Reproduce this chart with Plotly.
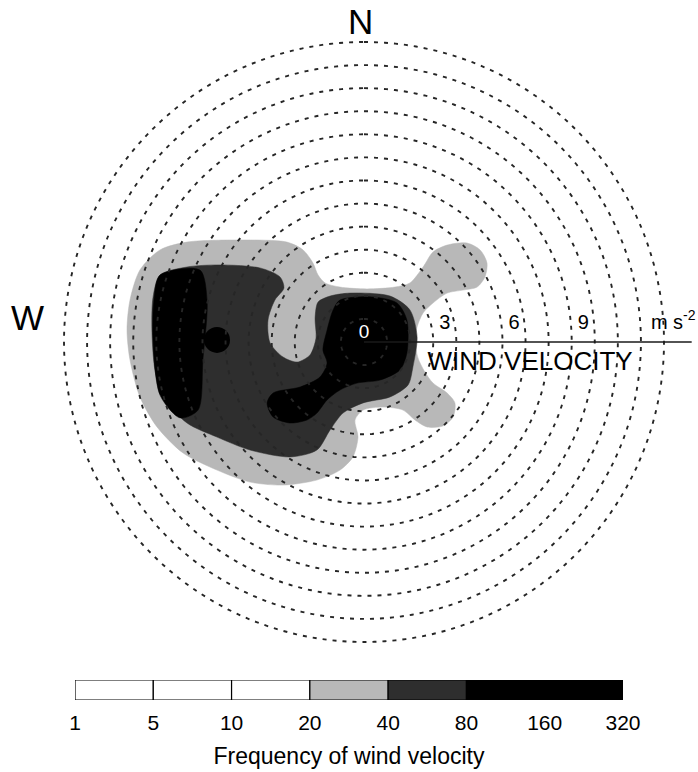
import numpy as np
import plotly.graph_objects as go

# Frequency classes (counts) and the grey shade used for each class
freq_bounds = [1, 5, 10, 20, 40, 80, 160, 320]
class_colors = ["#ffffff", "#ffffff", "#ffffff", "#b8b8b8", "#2e2e2e", "#000000", "#000000"]

# Speed circles and labelled speeds (m s-2)
speed_rings = list(range(1, 14))
speed_labels = [3, 6, 9]
speed_unit_r = 13.4
axis_end = 14.2

# Contour outlines as east / north velocity components (m s-2)
# frequency >= 20
f20_east = [-7.67, -5.50, -3.34, -2.64, -2.21, -1.99, -1.69, -1.04, 0.13, 1.34, 1.99,
            2.56, 2.99, 3.60, 4.46, 5.03, 5.33, 5.24, 4.90, 4.29, 3.60, 2.99, 2.56,
            2.30, 2.21, 2.34, 2.64, 2.99, 3.60, 3.94, 3.86, 3.42, 2.73, 2.21, 1.69,
            0.82, -0.04, -0.39, -0.26, -0.48, -1.04, -2.04, -3.51, -4.94, -6.37,
            -7.84, -8.97, -9.71, -10.14, -10.27, -10.14, -9.71, -8.84]
f20_north = [4.33, 4.42, 4.33, 3.99, 3.42, 2.90, 2.56, 2.38, 2.30, 2.38, 2.56,
             3.25, 3.90, 4.20, 4.29, 3.99, 3.42, 2.82, 2.38, 2.25, 2.12, 1.69, 1.26,
             0.65, 0.09, -0.69, -1.30, -1.78, -2.21, -2.64, -3.25, -3.64, -3.68, -3.38, -2.95,
             -2.82, -2.95, -3.38, -4.12, -4.98, -5.55, -5.98, -6.20, -6.07, -5.55,
             -4.81, -3.68, -2.38, -0.78, 0.52, 1.82, 3.12, 3.99]

# frequency >= 40
f40_east = [-8.84, -7.67, -6.24, -4.51, -3.64, -3.47, -3.86, -4.16, -4.07, -3.51, -2.90,
            -2.34, -2.08, -2.12, -1.99, -1.47, -0.61, 1.13, 1.99, 2.30, 2.12, 1.91,
            1.13, -0.04, -0.91, -1.47, -2.04, -3.21, -4.94, -6.37, -7.67, -8.71,
            -9.06, -9.19, -9.14]
f40_north = [2.90, 3.25, 3.34, 3.21, 2.82, 2.34, 1.82, 0.95, -0.04, -0.65, -0.87,
             -0.56, 0.17, 1.04, 1.73, 1.99, 2.12, 1.99, 1.39, 0.22, -1.08, -1.86,
             -2.38, -2.64, -3.08, -3.81, -4.68, -4.98, -4.68, -4.12, -3.51, -2.38,
             -1.21, 0.52, 1.95]

# frequency >= 80, calm-centred core
f80_east = [-1.34, -1.04, 0.39, 1.43, 1.86, 1.86, 1.56, 0.69, -0.30, -1.04, -1.60,
            -2.04, -2.47, -3.21, -3.94, -4.20, -3.94, -2.77, -1.91, -1.60, -1.78, -1.60]
f80_north = [1.39, 1.82, 1.95, 1.69, 0.95, -0.48, -1.21, -1.65, -1.78, -2.08, -2.51,
             -3.08, -3.38, -3.51, -3.25, -2.64, -2.21, -1.95, -1.52, -0.91, -0.35, 0.52]

# frequency >= 80, western band
f80w_east = [-8.84, -7.11, -6.80, -6.98, -7.19, -7.97, -8.84, -9.14, -9.10]
f80w_north = [2.90, 3.12, 1.82, -0.78, -2.95, -3.29, -2.30, 0.09, 1.82]

# isolated western maximum
peak_east = [-6.37]
peak_north = [0.09]


def to_polar(east, north, close=True):
    e = np.asarray(east, dtype=float)
    n = np.asarray(north, dtype=float)
    if close:
        e = np.append(e, e[0])
        n = np.append(n, n[0])
    r = np.hypot(e, n)
    theta = np.degrees(np.arctan2(e, n)) % 360
    return r, theta


FONT = "Liberation Sans, Arial, sans-serif"
fig = go.Figure()

areas = [
    (f20_east, f20_north, class_colors[3]),
    (f40_east, f40_north, class_colors[4]),
    (f80_east, f80_north, class_colors[5]),
    (f80w_east, f80w_north, class_colors[5]),
]
for east, north, col in areas:
    r, th = to_polar(east, north)
    fig.add_trace(go.Scatterpolar(r=r, theta=th, mode="lines", fill="toself",
                                  fillcolor=col,
                                  line=dict(color=col, width=0.5, shape="spline", smoothing=0.8),
                                  hoverinfo="skip", showlegend=False))

pr, pth = to_polar(peak_east, peak_north, close=False)
fig.add_trace(go.Scatterpolar(r=pr, theta=pth, mode="markers",
                              marker=dict(color="#000000", size=26),
                              hoverinfo="skip", showlegend=False))

# dashed speed circles
ring_theta = np.linspace(0, 360, 361)
for s in speed_rings:
    fig.add_trace(go.Scatterpolar(r=np.full_like(ring_theta, s), theta=ring_theta,
                                  mode="lines",
                                  line=dict(color="#262626", width=1.9, dash="4px,6px"),
                                  hoverinfo="skip", showlegend=False))

# speed axis towards the east
fig.add_trace(go.Scatterpolar(r=[0, axis_end], theta=[90, 90], mode="lines",
                              line=dict(color="#1a1a1a", width=1.6),
                              hoverinfo="skip", showlegend=False))

# speed labels above the axis (invisible markers keep them clear of the line)
fig.add_trace(go.Scatterpolar(
    r=[s + 0.5 for s in speed_labels] + [speed_unit_r], theta=[90] * (len(speed_labels) + 1),
    mode="markers+text", marker=dict(size=12, opacity=0),
    text=[str(s) for s in speed_labels] + ["m s<sup>-2</sup>"],
    textposition="top center", textfont=dict(family=FONT, size=20, color="#000000"),
    hoverinfo="skip", showlegend=False))

fig.add_trace(go.Scatterpolar(r=[7.2], theta=[90], mode="markers+text",
                              marker=dict(size=12, opacity=0), text=["WIND VELOCITY"],
                              textposition="bottom center",
                              textfont=dict(family=FONT, size=26, color="#000000"),
                              hoverinfo="skip", showlegend=False))

fig.add_trace(go.Scatterpolar(r=[0.4], theta=[0], mode="text", text=["0"],
                              textposition="middle center",
                              textfont=dict(family=FONT, size=19, color="#ffffff"),
                              hoverinfo="skip", showlegend=False))

# frequency scale bar
n_cls = len(class_colors)
fig.add_trace(go.Bar(x=[1] * n_cls, base=list(range(n_cls)), y=[0] * n_cls,
                     orientation="h", width=1,
                     marker=dict(color=class_colors, line=dict(color="#000000", width=1.2)),
                     hoverinfo="skip", showlegend=False))

W, H = 698, 772
cx, cy, rad = 364, 342, 330
fig.update_layout(
    template="none",
    width=W, height=H, autosize=False,
    margin=dict(l=0, r=0, t=0, b=0, pad=0),
    paper_bgcolor="white", plot_bgcolor="white",
    font=dict(family=FONT, color="#000000"),
    polar=dict(
        domain=dict(x=[(cx - rad) / W, (cx + rad) / W],
                    y=[(H - cy - rad) / H, (H - cy + rad) / H]),
        bgcolor="rgba(0,0,0,0)",
        radialaxis=dict(range=[0, 14.3], visible=False, showgrid=False),
        angularaxis=dict(direction="clockwise", rotation=90, visible=False,
                         showgrid=False, showline=False),
    ),
    xaxis=dict(domain=[75 / W, 623 / W], range=[0, n_cls], showgrid=False,
               zeroline=False, showline=False, ticks="", automargin=False,
               tickvals=list(range(len(freq_bounds))),
               ticktext=[str(b) for b in freq_bounds],
               tickfont=dict(size=21), ticklabelstandoff=8,
               title=dict(text="Frequency of wind velocity", font=dict(size=23), standoff=14),
               fixedrange=True),
    yaxis=dict(domain=[(H - 700) / H, (H - 680) / H], range=[-0.5, 0.5], visible=False,
               automargin=False, fixedrange=True),
    barmode="overlay",
    annotations=[
        dict(text="N", x=360 / W, y=(H - 22) / H, xref="paper", yref="paper",
             showarrow=False, font=dict(size=35), xanchor="center", yanchor="middle"),
        dict(text="W", x=27 / W, y=(H - 317) / H, xref="paper", yref="paper",
             showarrow=False, font=dict(size=35), xanchor="center", yanchor="middle"),
    ],
)

fig.write_html("out.html")
